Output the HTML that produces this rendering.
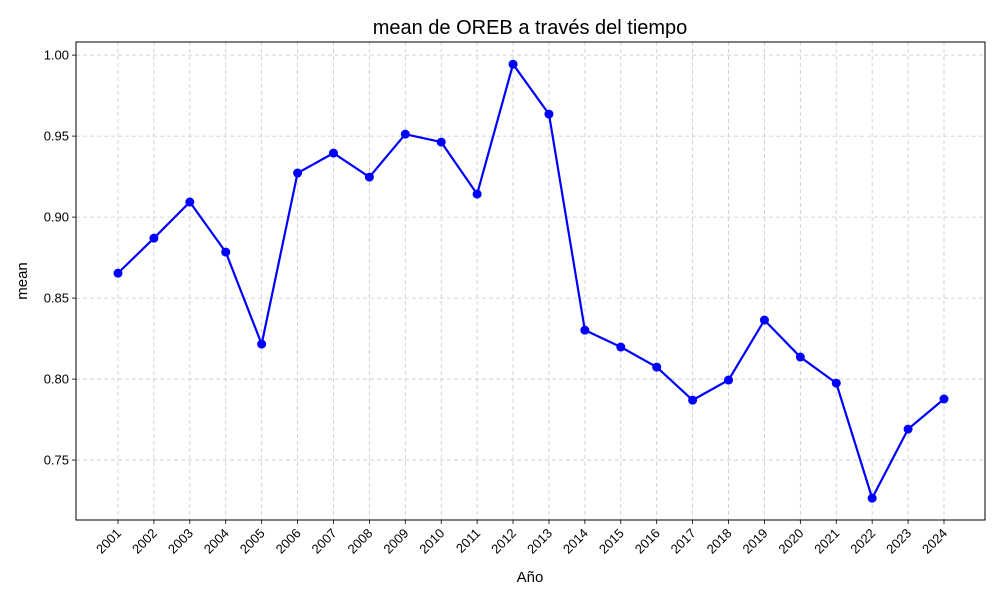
<!DOCTYPE html>
<html><head><meta charset="utf-8"><style>
html,body{margin:0;padding:0;background:#fff;}
svg{display:block;font-family:"Liberation Sans","DejaVu Sans",sans-serif;}
</style></head><body>
<svg id="chart" width="1000" height="600"></svg>
<script>
const years = ["2001","2002","2003","2004","2005","2006","2007","2008","2009","2010","2011","2012","2013","2014","2015","2016","2017","2018","2019","2020","2021","2022","2023","2024"];
const means = [0.8654,0.887,0.9093,0.8784,0.8216,0.9272,0.9395,0.9247,0.9512,0.9463,0.9142,0.9944,0.9636,0.8302,0.8198,0.8074,0.787,0.7994,0.8364,0.8136,0.7975,0.7265,0.7691,0.7877];
const yTicks = [0.75,0.80,0.85,0.90,0.95,1.00];
const yTickLabels = ["0.75","0.80","0.85","0.90","0.95","1.00"];

const NS="http://www.w3.org/2000/svg";
const svg=document.getElementById('chart');
const L=76,R=985,T=42,B=520;
const yMin=0.7130,yMax=1.0081;
const xFirst=118,xLast=944;
function xs(i){return xFirst+(xLast-xFirst)*i/(years.length-1);}
function ys(v){return B-(v-yMin)/(yMax-yMin)*(B-T);}
function mk(tag,attrs,parent){const e=document.createElementNS(NS,tag);for(const k in attrs)e.setAttribute(k,attrs[k]);(parent||svg).appendChild(e);return e;}

const title=mk('text',{x:530,y:34,'text-anchor':'middle','font-size':20,fill:'#000'});
title.textContent='mean de OREB a través del tiempo';



const grid=mk('g',{});


years.forEach((y,i)=>{
  const x=xs(i);
  mk('line',{x1:x,x2:x,y1:T,y2:B,stroke:'#c8c8c8','stroke-dasharray':'4,3','stroke-width':0.8},grid);
  mk('line',{x1:x,x2:x,y1:B,y2:B+4,stroke:'#000','stroke-width':0.8});
  const t=mk('text',{x:0,y:0,'font-size':13,'text-anchor':'end',transform:`translate(${x+4},${B+14}) rotate(-45)`});
  t.textContent=y;
  
  
});
yTicks.forEach((v,i)=>{
  const y=ys(v);
  mk('line',{x1:L,x2:R,y1:y,y2:y,stroke:'#c8c8c8','stroke-dasharray':'4,3','stroke-width':0.8},grid);
  mk('line',{x1:L-4,x2:L,y1:y,y2:y,stroke:'#000','stroke-width':0.8});
  const t=mk('text',{x:L-7,y:y+4.5,'font-size':13,'text-anchor':'end'});
  t.textContent=yTickLabels[i];
  
  
});

const frame=mk('rect',{x:L,y:T,width:R-L,height:B-T,fill:'none',stroke:'#000','stroke-width':1});



const pts=means.map((v,i)=>xs(i)+','+ys(v)).join(' ');
const line=mk('polyline',{points:pts,fill:'none',stroke:'#0000ff','stroke-width':2.2,'stroke-linejoin':'round'});


means.forEach((v,i)=>{
  const c=mk('circle',{cx:xs(i),cy:ys(v),r:4.5,fill:'#0000ff'});
  
  
});

const xl=mk('text',{x:530,y:582,'text-anchor':'middle','font-size':15});
xl.textContent='Año';


const yl=mk('text',{x:0,y:0,'text-anchor':'middle','font-size':15,transform:'translate(27,281) rotate(-90)'});
yl.textContent='mean';


</script>
</body></html>
